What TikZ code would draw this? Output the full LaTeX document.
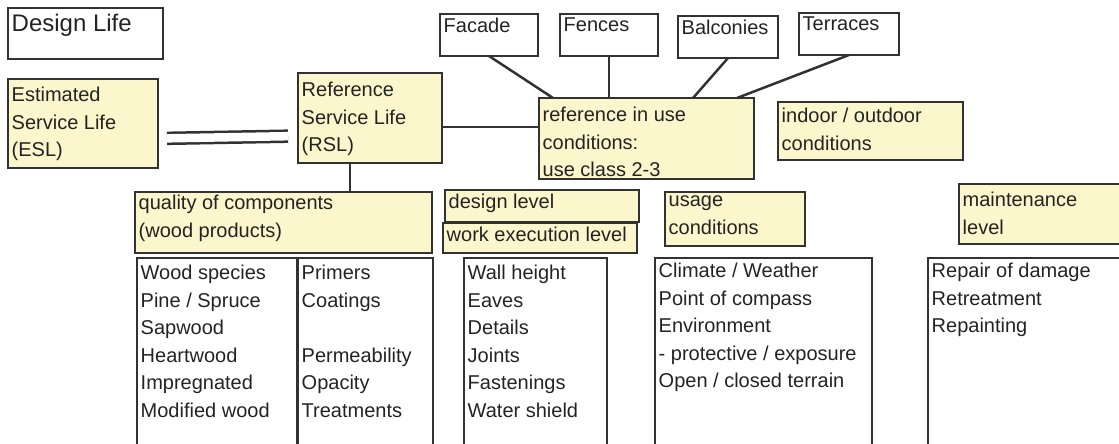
\documentclass[tikz,border=0pt]{standalone}
\usepackage{fontspec}
\setmainfont{Liberation Sans}
\usetikzlibrary{calc}
\definecolor{boxline}{RGB}{50,50,50}
\definecolor{boxtext}{RGB}{35,35,35}
\definecolor{paleyellow}{RGB}{252,246,204}
\newcommand{\BodyFont}{\fontsize{20}{27.5}\selectfont}
\newcommand{\TitleFont}{\fontsize{24}{28}\selectfont}

\begin{document}
\begin{tikzpicture}[
	x=1pt, y=-1pt,
	plain box/.style={
		draw=boxline,
		line width=1.7pt,
		anchor=north west,
		inner sep=0pt,
		outer sep=0pt
	},
	info box/.style={
		plain box,
		fill=paleyellow
	},
	box text/.style={
		anchor=north west,
		align=left,
		inner xsep=3.5pt,
		inner ysep=5pt,
		text=boxtext,
		font=\BodyFont
	},
	link/.style={
		draw=boxline,
		line width=2.5pt
	}
]
	\useasboundingbox (0,0) rectangle (1119,444);
	\clip (0,0) rectangle (1119,444);

	% life boxes
	\node[plain box, minimum width=155, minimum height=51,
		label={[box text, font=\TitleFont, inner ysep=6pt]north west:Design Life}] (design life) at (8,8) {};
	\node[info box, minimum width=150, minimum height=89,
		label={[box text, inner ysep=8pt]north west:{Estimated\\Service Life\\(ESL)}}] (esl) at (8,79) {};
	\node[info box, minimum width=144, minimum height=90,
		label={[box text, inner ysep=9pt]north west:{Reference\\Service Life\\(RSL)}}] (rsl) at (298,73) {};
	\node[info box, minimum width=215, minimum height=81,
		label={[box text, inner ysep=9pt]north west:{reference in use\\conditions:\\use class 2-3}}] (ref) at (539,98) {};
	\node[info box, minimum width=185, minimum height=58,
		label={[box text, inner ysep=6pt]north west:{indoor / outdoor\\conditions}}] (indoor) at (778,102) {};

	% building parts
	\foreach \n/\x/\y/\w/\t in {facade/440/14/98/Facade, fences/560/14/98/Fences,
		balconies/678/16/100/Balconies, terraces/799/13/100/Terraces}
		\node[plain box, minimum width=\w, minimum height=42,
			label={[box text, inner ysep=4pt]north west:\t}] (\n) at (\x,\y) {};

	% factor headings
	\node[info box, minimum width=297, minimum height=61,
		label={[box text, inner ysep=3pt]north west:{quality of components\\(wood products)}}] (quality) at (135,192) {};
	\node[info box, minimum width=194, minimum height=32,
		label={[box text, inner ysep=4pt]north west:design level}] (design level) at (445,190) {};
	\node[info box, minimum width=194, minimum height=30,
		label={[box text, inner ysep=4pt]north west:work execution level}] (work level) at (443,223) {};
	\node[info box, minimum width=140, minimum height=54,
		label={[box text, inner ysep=4pt]north west:{usage\\conditions}}] (usage) at (665,192) {};
	\node[info box, minimum width=200, minimum height=60,
		label={[box text, inner ysep=8pt]north west:{maintenance\\level}}] (maintenance) at (959,184) {};

	% factor lists
	\node[plain box, minimum width=160, minimum height=250,
		label={[box text, inner ysep=7pt]north west:{Wood species\\Pine / Spruce\\Sapwood\\Heartwood\\Impregnated\\Modified wood}}] (species) at (137,258) {};
	\node[plain box, minimum width=135, minimum height=250,
		label={[box text, inner ysep=7pt]north west:{Primers\\Coatings\\[27.5pt]Permeability\\Opacity\\Treatments}}] (coatings) at (298,258) {};
	\node[plain box, minimum width=143, minimum height=250,
		label={[box text, inner ysep=7pt]north west:{Wall height\\Eaves\\Details\\Joints\\Fastenings\\Water shield}}] (details) at (464,258) {};
	\node[plain box, minimum width=217, minimum height=250,
		label={[box text, inner ysep=5pt]north west:{Climate / Weather\\Point of compass\\Environment\\- protective / exposure\\Open / closed terrain}}] (climate) at (655,258) {};
	\node[plain box, minimum width=250, minimum height=250,
		label={[box text, inner ysep=5pt]north west:{Repair of damage\\Retreatment\\Repainting}}] (repair) at (928,258) {};

	% connectors
	\draw[link, double=white, double distance=8.5pt, shorten <=9pt, shorten >=10pt]
		([yshift=-15pt]esl.east) -- ([yshift=-18pt]rsl.west);
	\draw[link] ([yshift=-9pt]rsl.east) -- ([yshift=-9pt]rsl.east -| ref.west);
	\draw[link] ([xshift=-20pt]rsl.south) -- ([xshift=-20pt]rsl.south |- quality.north);
	\draw[link] (facade.south) -- ([xshift=14pt]ref.north west);
	\draw[link] (fences.south) -- (fences.south |- ref.north);
	\draw[link] (balconies.south) -- ([xshift=154pt]ref.north west);
	\draw[link] (terraces.south) -- ([xshift=198pt]ref.north west);
\end{tikzpicture}
\end{document}
